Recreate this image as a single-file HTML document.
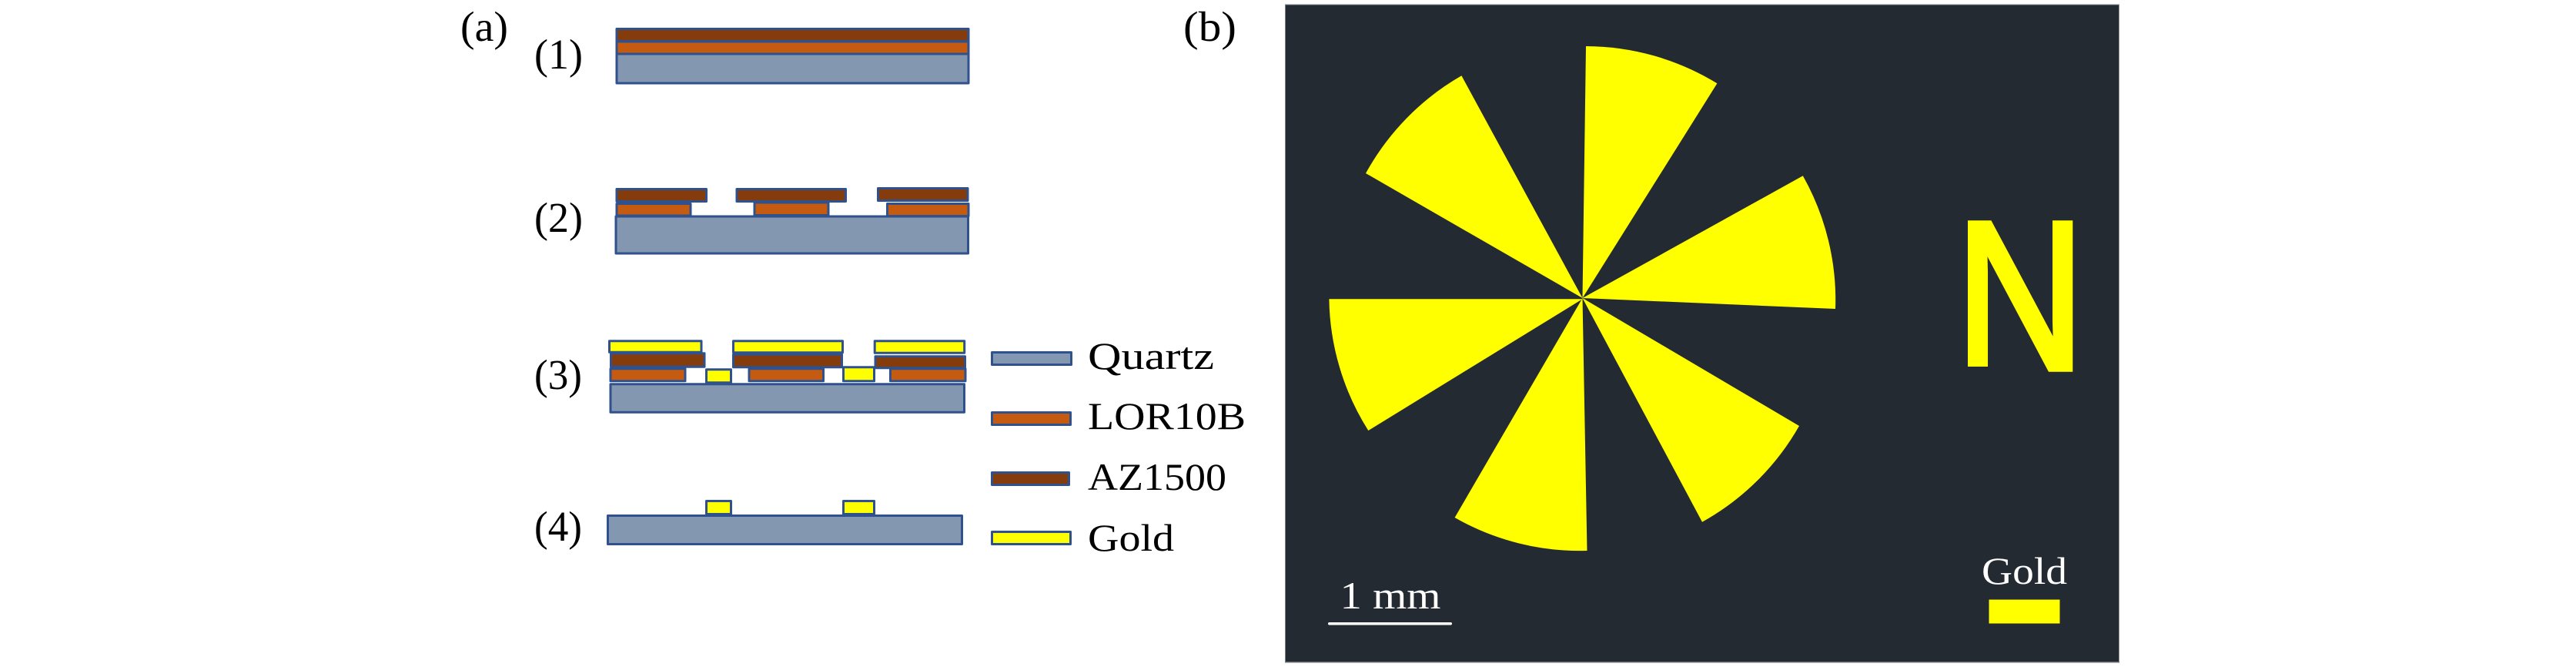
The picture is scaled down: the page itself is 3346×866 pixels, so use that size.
<!DOCTYPE html>
<html><head><meta charset="utf-8"><style>
html,body{margin:0;padding:0;background:#fff}
svg{display:block}
.q{fill:#8497b0}.o{fill:#c55a11}.b{fill:#843c0c}.g{fill:#ffff00}
.s rect{stroke:#2f528f;stroke-width:3;stroke-linejoin:round}
text{font-family:"Liberation Serif",serif;font-size:50px;fill:#000}
.w{fill:#fff}
</style></head><body>
<svg xmlns="http://www.w3.org/2000/svg" width="3346" height="866" viewBox="0 0 3346 866">
<rect width="3346" height="866" fill="#fff"/>
<text x="598" y="53" textLength="62" lengthAdjust="spacingAndGlyphs" style="font-size:55px">(a)</text>
<text x="694" y="89" textLength="63" lengthAdjust="spacingAndGlyphs" style="font-size:55px">(1)</text>
<text x="694" y="301" textLength="63" lengthAdjust="spacingAndGlyphs" style="font-size:55px">(2)</text>
<text x="694" y="505" textLength="62" lengthAdjust="spacingAndGlyphs" style="font-size:55px">(3)</text>
<text x="694" y="702" textLength="62" lengthAdjust="spacingAndGlyphs" style="font-size:55px">(4)</text>
<text x="1537" y="53" textLength="69" lengthAdjust="spacingAndGlyphs" style="font-size:55px">(b)</text>

<g class="s">
<!-- stack 1 -->
<rect class="q" x="801" y="70" width="457" height="38"/>
<rect class="o" x="801" y="54" width="457" height="16"/>
<rect class="b" x="801" y="37.5" width="457" height="16"/>
<!-- stack 2 -->
<rect class="q" x="800" y="281" width="457.5" height="48"/>
<rect class="o" x="801" y="264.5" width="96" height="15.5"/>
<rect class="o" x="980" y="263" width="96" height="16.5"/>
<rect class="o" x="1152.500" y="264.5" width="105.500" height="16"/>
<rect class="b" x="801" y="245.500" width="116.500" height="16"/>
<rect class="b" x="957" y="245.500" width="141.500" height="16"/>
<rect class="b" x="1140.500" y="244.500" width="116.500" height="16"/>
<!-- stack 3 -->
<rect class="q" x="793" y="498.800" width="459.500" height="36.500"/>
<rect class="o" x="793" y="478.800" width="97" height="16"/>
<rect class="o" x="973" y="478.800" width="96.500" height="16"/>
<rect class="o" x="1156.500" y="478.800" width="97.500" height="16"/>
<rect class="g" x="917.500" y="479.800" width="32" height="17"/>
<rect class="g" x="1095.500" y="476.800" width="40" height="18"/>
<rect class="b" x="793.500" y="458.800" width="121.500" height="17.500"/>
<rect class="b" x="952.500" y="460.200" width="141" height="16.500"/>
<rect class="b" x="1137" y="462.800" width="116.500" height="15"/>
<rect class="g" x="791.500" y="442.800" width="119.500" height="14.500"/>
<rect class="g" x="952.500" y="442.800" width="142" height="15"/>
<rect class="g" x="1136.200" y="442.800" width="116.500" height="15.500"/>
<!-- stack 4 -->
<rect class="q" x="789.500" y="669.500" width="460" height="37"/>
<rect class="g" x="917.500" y="650.500" width="32" height="17"/>
<rect class="g" x="1095.500" y="650.500" width="40" height="17"/>
<!-- legend -->
<rect class="q" x="1288.500" y="457.500" width="103" height="16"/>
<rect class="o" x="1288.500" y="535.500" width="102" height="16"/>
<rect class="b" x="1288.500" y="613.500" width="100" height="16"/>
<rect class="g" x="1288.500" y="690.500" width="102" height="16"/>
</g>
<text x="1413" y="479" textLength="164" lengthAdjust="spacingAndGlyphs">Quartz</text>
<text x="1413" y="557" textLength="205" lengthAdjust="spacingAndGlyphs">LOR10B</text>
<text x="1413" y="636" textLength="180" lengthAdjust="spacingAndGlyphs">AZ1500</text>
<text x="1413" y="715" textLength="112" lengthAdjust="spacingAndGlyphs">Gold</text>

<!-- panel b -->
<rect x="1669.500" y="6" width="1083" height="854" fill="#232a31"/>
<rect x="1669" y="5.500" width="1084" height="1" fill="#8a9096"/>
<rect x="1669" y="859" width="1084" height="1.500" fill="#71767b"/>
<rect x="1669" y="6" width="1" height="854" fill="#7c8288"/>
<g fill="#ffff00">
<path d="M2055.500 387 L2060 60 A328 328 0 0 1 2230.400 108.300 Z"/>
<path d="M2055.500 387 L1898.400 98.300 A328 328 0 0 0 1774 225 Z"/>
<path d="M2055.500 387 L2341.800 228.300 A328 328 0 0 1 2384 401 Z"/>
<path d="M2055.500 388.300 L1726.400 388.300 A328 328 0 0 0 1777.300 559 Z"/>
<path d="M2055.500 387 L1889.600 672 A328 328 0 0 0 2061.500 715 Z"/>
<path d="M2055.500 387 L2337 553 A328 328 0 0 1 2211 677.700 Z"/>
<rect x="2583.500" y="778.500" width="92" height="31"/>
</g>
<text transform="translate(2540.400,478.700) scale(0.846,1)" style="font-family:'Liberation Sans',sans-serif;font-size:274px;fill:#ffff00;stroke:#ffff00;stroke-width:8;stroke-linejoin:miter">N</text>
<rect x="2550" y="476" width="38" height="10" fill="#232a31"/>
<rect x="1725" y="808" width="161" height="3.500" rx="1.700" fill="#fff"/>
<text class="w" x="1740.500" y="790" textLength="131" lengthAdjust="spacingAndGlyphs">1 mm</text>
<text class="w" x="2574" y="758" textLength="111" lengthAdjust="spacingAndGlyphs">Gold</text>
</svg>
</body></html>
